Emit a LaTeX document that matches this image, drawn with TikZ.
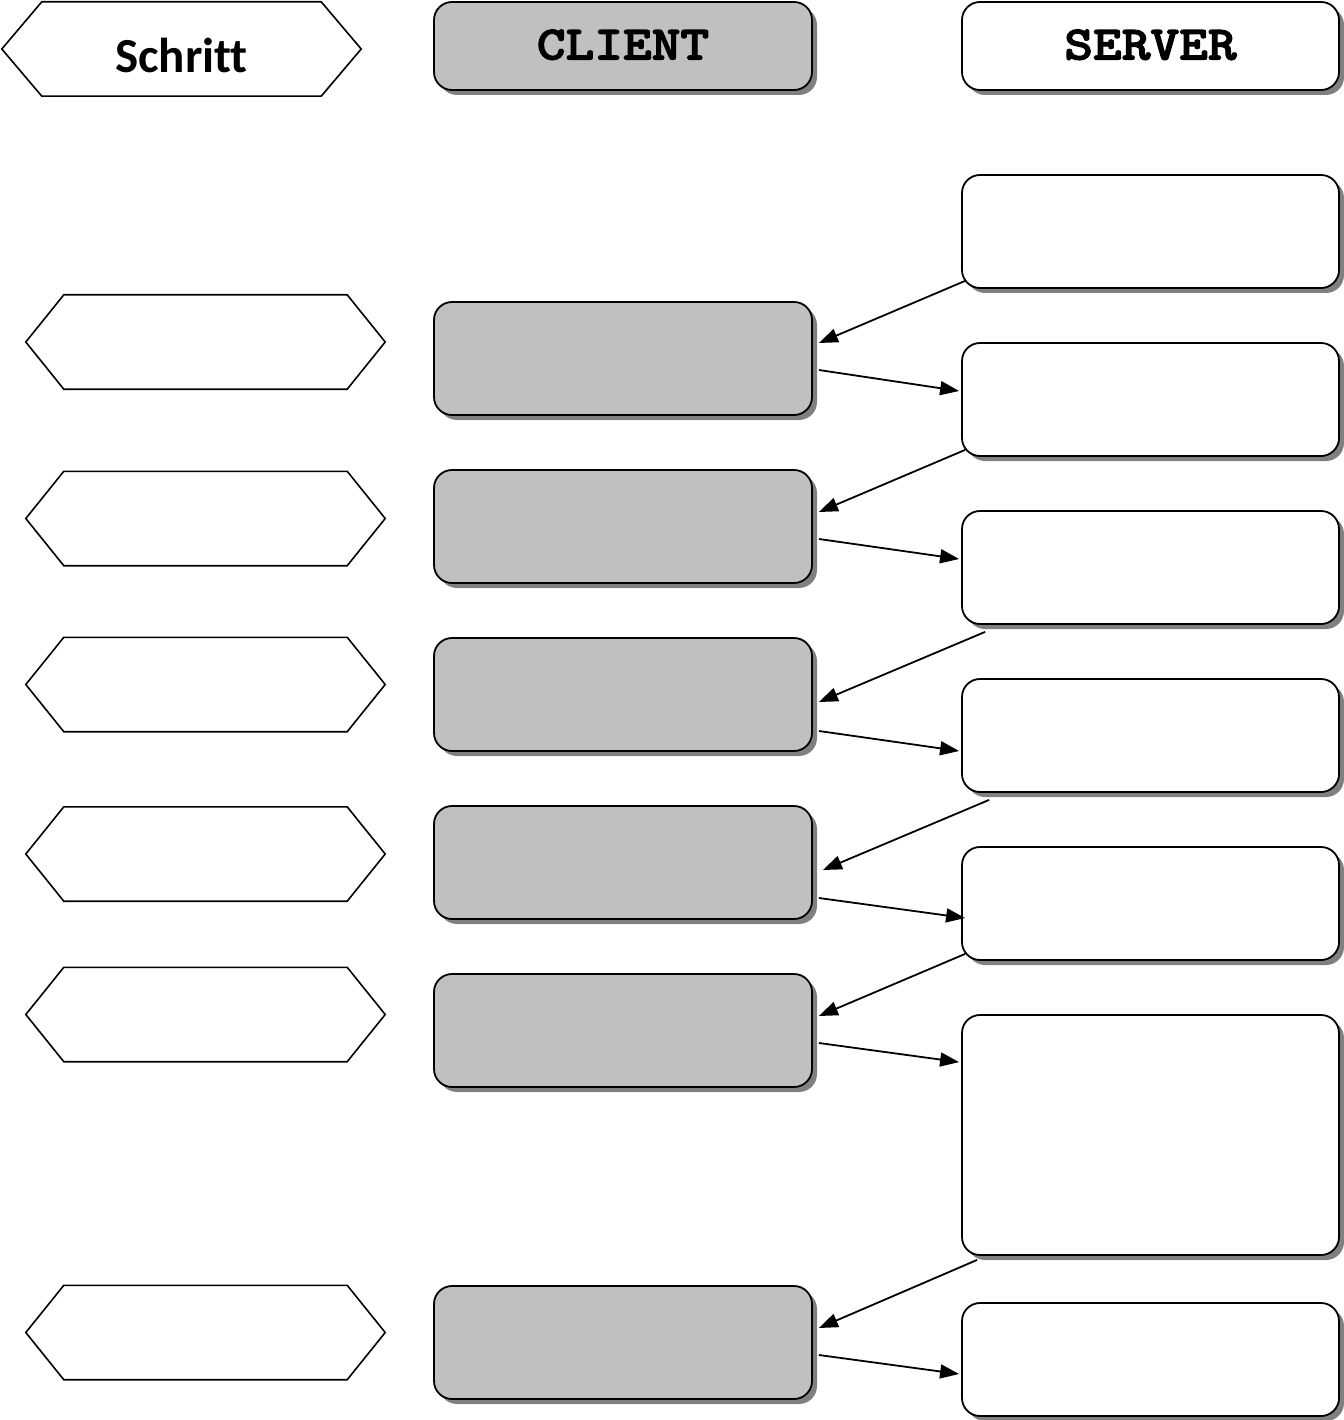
\documentclass[tikz,border=0pt]{standalone}
\usepackage{fontspec}
\newfontfamily\carlito[Ligatures=NoCommon]{Carlito}
\newfontfamily\cmono[Extension=.otf, FakeStretch=1.14, FakeBold=2.5]{lmmonolt10-bold}
\usetikzlibrary{shadows,arrows.meta,calc}
\definecolor{clientgray}{HTML}{C0C0C0}
\definecolor{shadowgray}{HTML}{808080}
\tikzset{
  box/.style={draw, line width=1.8pt, rounded corners=18pt, minimum width=378pt, inner sep=0pt,
    drop shadow={shadow xshift=5pt, shadow yshift=-5pt, fill=shadowgray, opacity=1}},
  cbox/.style={box, fill=clientgray},
  sbox/.style={box, fill=white},
  hexnode/.style={minimum width=359pt, minimum height=94pt, inner sep=0pt},
  hexline/.style={line width=1.6pt, line join=miter},
  arr/.style={line width=1.8pt, -{Triangle[length=19pt,width=14pt]}},
  headtxt/.style={font=\cmono\fontsize{48}{50}\selectfont}
}
\begin{document}
\begin{tikzpicture}[x=1pt,y=-1pt]
\useasboundingbox (0,0) rectangle (1343,1420);
% header
\node[hexnode] (hs) at (181.5,49) {};
\draw[hexline] (hs.west) -- ([xshift=40pt]hs.north west) -- ([xshift=-40pt]hs.north east) -- (hs.east)
  -- ([xshift=-40pt]hs.south east) -- ([xshift=40pt]hs.south west) -- cycle;
\node[font=\carlito\bfseries\fontsize{49}{52}\selectfont] (hst) at (181.5,55) {Schritt};
\node[cbox, minimum height=88pt, headtxt] (ch) at (623,46) {\raisebox{3pt}{CLIENT}};
\node[sbox, minimum height=88pt, minimum width=377pt, headtxt] (sh) at (1150.5,46) {\raisebox{3pt}{SERVER}};
% step hexagons
\foreach \n/\yy in {h1/342, h2/518.5, h3/684.5, h4/854, h5/1014.5, h6/1332.5}{
  \node[hexnode] (\n) at (205.5,\yy) {};
  \draw[hexline] (\n.west) -- ([xshift=38pt]\n.north west) -- ([xshift=-38pt]\n.north east) -- (\n.east)
    -- ([xshift=-38pt]\n.south east) -- ([xshift=38pt]\n.south west) -- cycle;
}
% client boxes
\foreach \n/\yy in {c1/358.5, c2/526.5, c3/694.5, c4/862.5, c5/1030.5, c6/1342.5}{
  \node[cbox, minimum height=113pt] (\n) at (623,\yy) {};
}
% server boxes
\foreach \n/\yy in {s1/231.5, s2/399.5, s3/567.5, s4/735.5, s5/903.5, s7/1359.5}{
  \node[sbox, minimum height=113pt, minimum width=377pt] (\n) at (1150.5,\yy) {};
}
\node[sbox, minimum height=240pt, minimum width=377pt] (s6) at (1150.5,1135) {};
% arrows
\draw[arr] ($(s1.south west)+(4,-8)$) -- ($(c1.east)+(6,-15.5)$);
\draw[arr] ($(c1.east)+(6,11.5)$) -- ($(s2.west)+(-2,-8.5)$);
\draw[arr] ($(s2.south west)+(4,-7)$) -- ($(c2.east)+(6,-14.5)$);
\draw[arr] ($(c2.east)+(6,12.5)$) -- ($(s3.west)+(-2,-8.5)$);
\draw[arr] ($(s3.south west)+(24,7)$) -- ($(c3.east)+(6,7.5)$);
\draw[arr] ($(c3.east)+(6,36.5)$) -- ($(s4.west)+(-2,15.5)$);
\draw[arr] ($(s4.south west)+(28,7)$) -- ($(c4.east)+(10,7.5)$);
\draw[arr] ($(c4.east)+(6,35.5)$) -- ($(s5.west)+(4,14.5)$);
\draw[arr] ($(s5.south west)+(4,-7)$) -- ($(c5.east)+(6,-14.5)$);
\draw[arr] ($(c5.east)+(6,12.5)$) -- ($(s6.north west)+(-2,48)$);
\draw[arr] ($(s6.south west)+(16,4)$) -- ($(c6.east)+(6,-14.5)$);
\draw[arr] ($(c6.east)+(6,12.5)$) -- ($(s7.west)+(-2,14.5)$);
\end{tikzpicture}
\end{document}
